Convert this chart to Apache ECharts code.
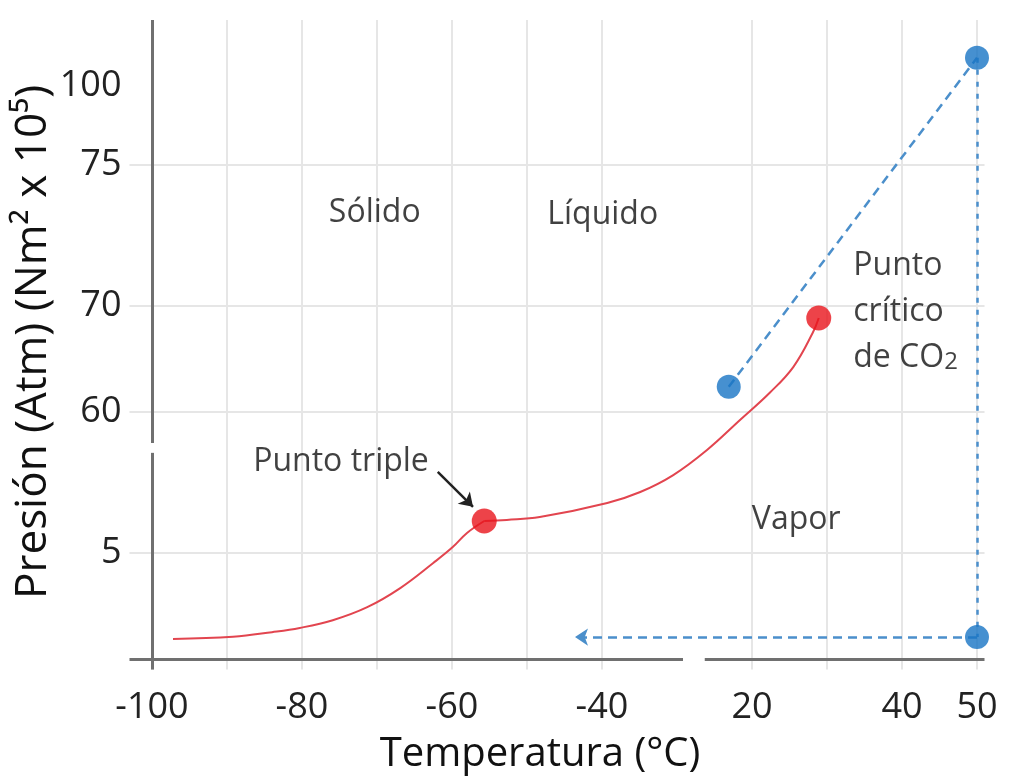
<!DOCTYPE html>
<html>
<head>
<meta charset="utf-8">
<script src="https://cdn.jsdelivr.net/npm/echarts@6/dist/echarts.min.js"></script>
<style>
html,body{margin:0;padding:0;background:#fff;}
#chart{width:1009px;height:778px;}
</style>
</head>
<body>
<div id="chart"></div>
<script>
// ---- Data (axis units: one unit per grid cell of the drawn, broken scale) ----
const xLabelPos    = [0, 2, 4, 6, 8, 10, 11];
const xLabelText   = ['-100', '-80', '-60', '-40', '20', '40', '50'];
const xGridPos     = [1, 2, 3, 4, 5, 6, 8, 9, 10, 11];
const yLabelPos    = [3, 7, 10, 14, 16.25];
const yLabelText   = ['5', '60', '70', '75', '100'];
const yGridPos     = [3, 7, 10, 14];

// sublimation curve (solid-vapour)
const lowerCurveX = [0.28, 1.08, 1.60, 1.97, 2.41, 2.87, 3.31, 3.75, 4.01, 4.20, 4.43];
const lowerCurveY = [0.57, 0.63, 0.76, 0.88, 1.10, 1.47, 2.01, 2.72, 3.17, 3.57, 3.91];
// vaporisation curve (liquid-vapour)
const upperCurveX = [4.43, 4.73, 5.17, 6.07, 6.51, 6.95, 7.40, 7.84, 8.24, 8.55, 8.81, 8.89];
const upperCurveY = [3.91, 3.94, 4.02, 4.42, 4.73, 5.21, 5.92, 6.77, 7.55, 8.27, 9.24, 9.66];

const triplePoint   = [4.43, 3.91];
const criticalPoint = [8.89, 9.66];
const bluePoints    = [[7.69, 7.71], [11.0, 17.03], [11.0, 0.62]];
const blueArrowTip  = [5.64, 0.62];

// axis line pieces (with breaks)
const xAxisPieces = [[-0.3, 7.08], [7.37, 11.1]];
const yAxisPieces = [[-0.3, 5.84], [6.12, 18.1]];

// region annotations
const regionLabels = [
  {pos: [2.97, 12.63], text: 'Sólido'},
  {pos: [6.01, 12.58], text: 'Líquido'},
  {pos: [2.52, 5.58],  text: 'Punto triple'},
  {pos: [8.59, 3.94],  text: 'Vapor'}
];
const criticalLabelPos = [9.35, 10.03];
const tripleArrow = [[3.81, 5.30], [4.28, 4.31]];

// ---- Chart ----
const FONT = 'Open Sans';
const chart = echarts.init(document.getElementById('chart'), null, {renderer: 'canvas'});
const labelMapX = {}; xLabelPos.forEach((p, i) => labelMapX[p] = xLabelText[i]);
const labelMapY = {}; yLabelPos.forEach((p, i) => labelMapY[p] = yLabelText[i]);

const axisLineColor = '#707070';
const axisLineData = [];
xAxisPieces.forEach(p => axisLineData.push([{coord: [p[0], 0]}, {coord: [p[1], 0]}]));
yAxisPieces.forEach(p => axisLineData.push([{coord: [0, p[0]]}, {coord: [0, p[1]]}]));

const curveLower = lowerCurveX.map((x, i) => [x, lowerCurveY[i]]);
const curveUpper = upperCurveX.map((x, i) => [x, upperCurveY[i]]);

const option = {
  animation: false,
  backgroundColor: '#ffffff',
  grid: {left: 129.5, right: 24.5, top: 20.07, bottom: 108.41, outerBoundsMode: 'none', containLabel: false},
  xAxis: {
    type: 'value', min: -0.3, max: 11.1,
    axisLine: {show: false, onZero: true},
    axisTick: {show: false, customValues: xGridPos},
    splitLine: {show: true, lineStyle: {color: '#e6e6e6', width: 2}},
    axisLabel: {
      customValues: xLabelPos, margin: 20,
      formatter: v => labelMapX[v] !== undefined ? labelMapX[v] : '',
      fontFamily: FONT, fontSize: 36, color: '#222'
    },
    name: 'Temperatura (°C)', nameLocation: 'middle', nameGap: 65, nameMoveOverlap: false,
    nameTextStyle: {fontFamily: FONT, fontSize: 40, color: '#111', padding: [0, 34, 0, 0]}
  },
  yAxis: {
    type: 'value', min: -0.3, max: 18.1,
    axisLine: {show: false, onZero: true},
    axisTick: {show: false, customValues: yGridPos},
    splitLine: {show: true, lineStyle: {color: '#e6e6e6', width: 2}},
    axisLabel: {
      customValues: yLabelPos, margin: 8,
      formatter: v => labelMapY[v] !== undefined ? labelMapY[v] : '',
      fontFamily: FONT, fontSize: 36, color: '#222'
    },
    name: 'Presión (Atm) (Nm² x 10⁵)', nameLocation: 'middle', nameGap: 74, nameMoveOverlap: false,
    nameTextStyle: {fontFamily: FONT, fontSize: 44, color: '#111', padding: [0, 0, 0, 6]}
  },
  series: [
    {
      name: 'ejes', type: 'line', data: [], silent: true,
      markLine: {
        silent: true, symbol: ['none', 'none'], z: 4,
        label: {show: false},
        lineStyle: {color: axisLineColor, width: 3, type: 'solid'},
        data: axisLineData
      }
    },
    {
      name: 'Curva sólido-vapor', type: 'line', data: curveLower, smooth: 0.4,
      showSymbol: false, symbol: 'none', z: 5,
      lineStyle: {color: '#e2454f', width: 2}
    },
    {
      name: 'Curva líquido-vapor', type: 'line', data: curveUpper, smooth: 0.4,
      showSymbol: false, symbol: 'none', z: 5,
      lineStyle: {color: '#e2454f', width: 2}
    },
    {
      name: 'Puntos', type: 'scatter', data: [triplePoint, criticalPoint],
      symbolSize: 25, z: 10,
      itemStyle: {color: '#e8141c'}
    },
    {
      name: 'Ruta', type: 'scatter', data: bluePoints, symbolSize: 24, z: 10,
      itemStyle: {color: '#1874c4'},
      markLine: {
        silent: true, z: 6, symbol: ['none', 'none'],
        label: {show: false},
        lineStyle: {color: '#4b8fcb', width: 2.5, type: [9, 6]},
        data: [
          [{coord: bluePoints[0]}, {coord: bluePoints[1]}],
          [{coord: bluePoints[1], lineStyle: {type: [5, 7]}}, {coord: bluePoints[2]}],
          [{coord: bluePoints[2], symbol: 'none'}, {coord: blueArrowTip, symbol: 'arrow', symbolSize: 13}]
        ]
      }
    },
    {
      name: 'Flecha', type: 'line', data: [], silent: true,
      markLine: {
        silent: true, z: 7, symbol: ['none', 'arrow'], symbolSize: 13,
        label: {show: false},
        lineStyle: {color: '#222', width: 2.5, type: 'solid'},
        data: [[{coord: tripleArrow[0]}, {coord: tripleArrow[1]}]]
      }
    },
    {
      name: 'Regiones', type: 'scatter', symbolSize: 0, silent: true, z: 12,
      data: regionLabels.map(d => ({value: d.pos, name: d.text})),
      label: {
        show: true, position: 'inside', formatter: p => p.name,
        fontFamily: FONT, fontSize: 32, color: '#111'
      }
    },
    {
      name: 'Crítico', type: 'scatter', symbolSize: 0, silent: true, z: 12,
      data: [{value: criticalLabelPos}],
      label: {
        show: true, position: 'right', distance: 0, align: 'left',
        formatter: '{a|Punto}\n{a|crítico}\n{a|de CO}{s|2}',
        rich: {
          a: {fontFamily: FONT, fontSize: 32, lineHeight: 46, color: '#111', verticalAlign: 'bottom'},
          s: {fontFamily: FONT, fontSize: 24, lineHeight: 46, color: '#111', verticalAlign: 'bottom'}
        }
      }
    }
  ]
};
chart.setOption(option);
</script>
</body>
</html>
